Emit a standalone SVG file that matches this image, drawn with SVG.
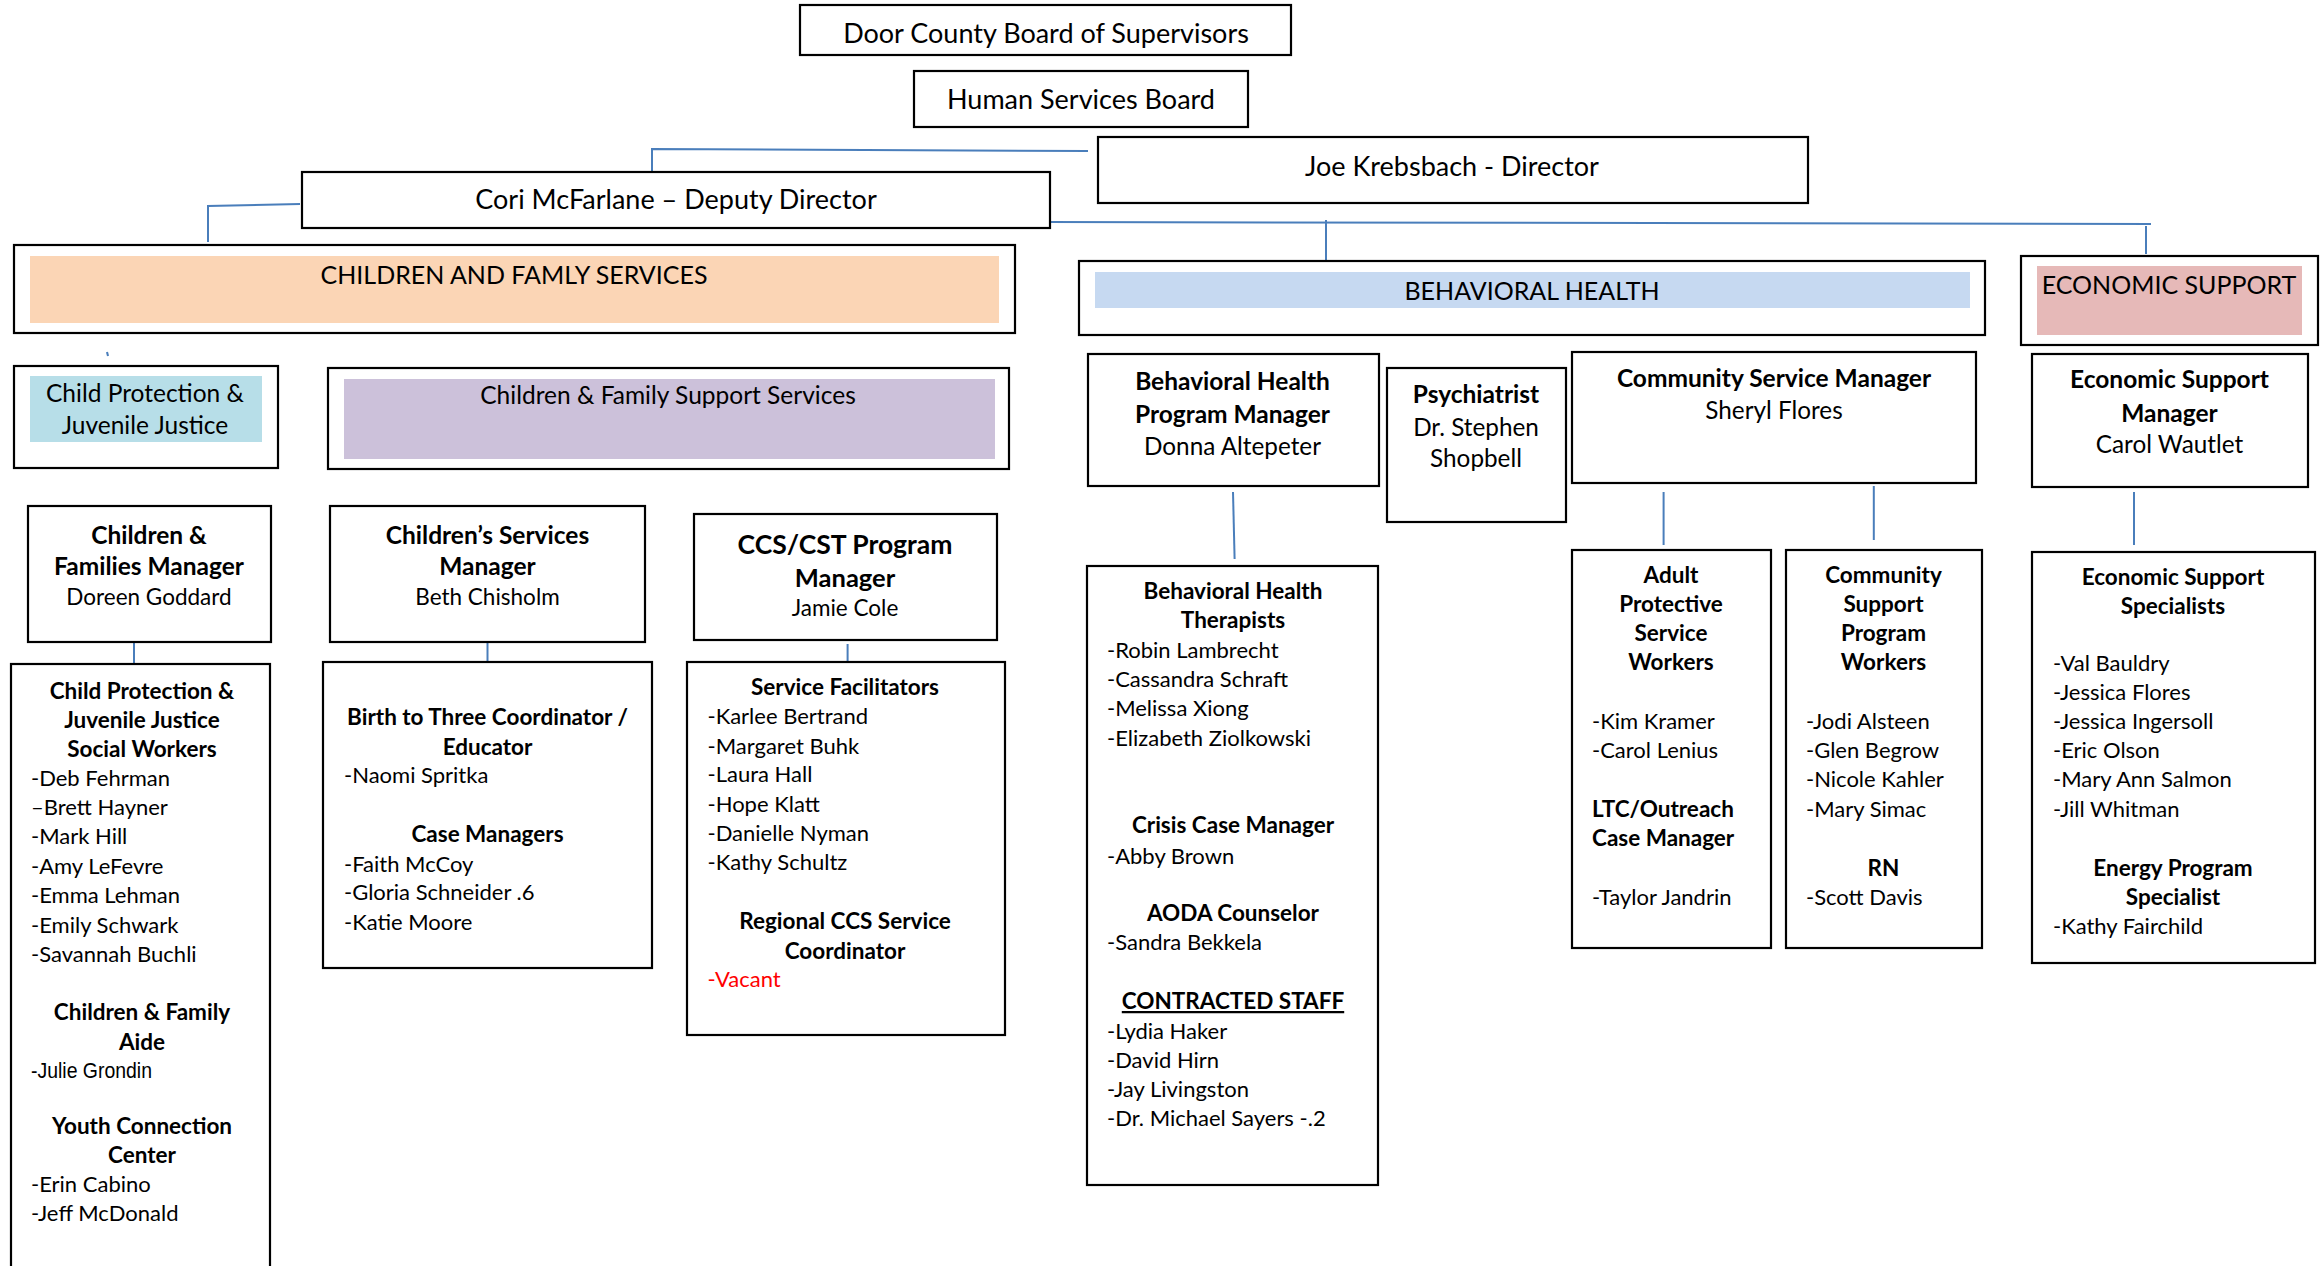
<svg xmlns="http://www.w3.org/2000/svg" width="2322" height="1266" viewBox="0 0 2322 1266">
<style>
.box{fill:#fff;stroke:#000;stroke-width:2.2}
.conn{fill:none;stroke:#4a7ebb;stroke-width:2}
text{font-family:Lato,"Liberation Sans",sans-serif;fill:#000}
.top{font-size:27px;text-anchor:middle}
.sec{font-size:25px;text-anchor:middle}
.sub{font-size:24.5px;text-anchor:middle}
.mh{font-size:24.5px;font-weight:bold;text-anchor:middle}
.mn{font-size:22.5px;text-anchor:middle}
.mn2{font-size:24.3px;text-anchor:middle}
.h{font-size:22.5px;font-weight:bold;text-anchor:middle}
.hl{font-size:22.5px;font-weight:bold}
.l{font-size:22px}
</style>
<rect width="2322" height="1266" fill="#fff"/>
<g id="connectors">
<path class="conn" d="M1088 151 L652 149 L652 171"/>
<path class="conn" d="M300 204 L208 206 L208 242"/>
<path class="conn" d="M1047 222 L2151 224"/>
<path class="conn" d="M1326 220 L1326 260"/>
<path class="conn" d="M2146 226 L2146 254"/>
<path class="conn" d="M107 352 L108 356" stroke-width="1.5"/>
<path class="conn" d="M483 400 L483.5 407" stroke-width="1.5"/>
<path class="conn" d="M134 641 L134 663"/>
<path class="conn" d="M487.5 643 L487.5 661"/>
<path class="conn" d="M847.6 644 L847.6 661"/>
<path class="conn" d="M1233 492 L1234.6 559"/>
<path class="conn" d="M1663.6 492 L1663.6 545"/>
<path class="conn" d="M1873.8 486 L1873.8 540"/>
<path class="conn" d="M2134 492 L2134 545"/>
</g>
<g id="n-board"><rect class="box" x="800" y="5" width="491" height="50"/><text class="top" x="1046" y="43">Door County Board of Supervisors</text></g>
<g id="n-hsb"><rect class="box" x="914" y="71" width="334" height="56"/><text class="top" x="1081" y="109">Human Services Board</text></g>
<g id="n-director"><rect class="box" x="1098" y="137" width="710" height="66"/><text class="top" x="1452" y="176">Joe Krebsbach - Director</text></g>
<g id="n-deputy"><rect class="box" x="302" y="172" width="748" height="56"/><text class="top" x="676" y="209">Cori McFarlane – Deputy Director</text></g>
<g id="n-cfs"><rect class="box" x="14" y="245" width="1001" height="88"/><rect x="30" y="256" width="969" height="67" fill="#fbd5b5"/><text class="sec" x="514" y="284">CHILDREN AND FAMLY SERVICES</text></g>
<g id="n-cpjj"><rect class="box" x="14" y="366" width="264" height="102"/><rect x="30" y="376" width="232" height="66" fill="#b7dee8"/><text class="sub" x="145" y="402">Child Protection &amp;</text><text class="sub" x="145" y="434">Juvenile Justice</text></g>
<g id="n-cfss"><rect class="box" x="328" y="368" width="681" height="101"/><rect x="344" y="379" width="651" height="80" fill="#ccc1da"/><text class="sub" x="668" y="404">Children &amp; Family Support Services</text></g>
<g id="n-bh"><rect class="box" x="1079" y="261" width="906" height="74"/><rect x="1095" y="272" width="875" height="36" fill="#c6d9f1"/><text class="sec" x="1532" y="300">BEHAVIORAL HEALTH</text></g>
<g id="n-es"><rect class="box" x="2021" y="256" width="297" height="89"/><rect x="2037" y="266" width="265" height="69" fill="#e6b9b8"/><text class="sec" x="2169" y="294">ECONOMIC SUPPORT</text></g>
<g id="n-cfm"><rect class="box" x="28" y="506" width="243" height="136"/><text class="mh" x="149" y="544">Children &amp;</text><text class="mh" x="149" y="575">Families Manager</text><text class="mn" x="149" y="605">Doreen Goddard</text></g>
<g id="n-csm"><rect class="box" x="330" y="506" width="315" height="136"/><text class="mh" x="487.5" y="544">Children’s Services</text><text class="mh" x="487.5" y="575">Manager</text><text class="mn" x="487.5" y="605">Beth Chisholm</text></g>
<g id="n-ccs"><rect class="box" x="694" y="514" width="303" height="126"/><text class="mh" x="845" y="554" style="font-size:26.5px">CCS/CST Program</text><text class="mh" x="845" y="587" style="font-size:25.5px">Manager</text><text class="mn" x="845" y="616">Jamie Cole</text></g>
<g id="n-bhpm"><rect class="box" x="1088" y="354" width="291" height="132"/><text class="mh" x="1232.5" y="390">Behavioral Health</text><text class="mh" x="1232.5" y="423">Program Manager</text><text class="mn2" x="1232.5" y="455">Donna Altepeter</text></g>
<g id="n-psy"><rect class="box" x="1387" y="368" width="179" height="154"/><text class="mh" x="1476" y="403">Psychiatrist</text><text class="mn2" x="1476" y="436">Dr. Stephen</text><text class="mn2" x="1476" y="467">Shopbell</text></g>
<g id="n-comm"><rect class="box" x="1572" y="352" width="404" height="131"/><text class="mh" x="1774" y="387">Community Service Manager</text><text class="mn2" x="1774" y="419">Sheryl Flores</text></g>
<g id="n-esm"><rect class="box" x="2032" y="354" width="276" height="133"/><text class="mh" x="2169.5" y="388">Economic Support</text><text class="mh" x="2169.5" y="422">Manager</text><text class="mn2" x="2169.5" y="453">Carol Wautlet</text></g>
<g id="n-cpsw"><rect class="box" x="11" y="664" width="259" height="640"/>
<text class="h" x="142" y="699">Child Protection &amp;</text><text class="h" x="142" y="728">Juvenile Justice</text><text class="h" x="142" y="757">Social Workers</text>
<text class="l" x="31" y="786">-Deb Fehrman</text><text class="l" x="31" y="815">–Brett Hayner</text><text class="l" x="31" y="844">-Mark Hill</text><text class="l" x="31" y="874">-Amy LeFevre</text><text class="l" x="31" y="903">-Emma Lehman</text><text class="l" x="31" y="933">-Emily Schwark</text><text class="l" x="31" y="962">-Savannah Buchli</text>
<text class="h" x="142" y="1020">Children &amp; Family</text><text class="h" x="142" y="1050">Aide</text>
<text x="31" y="1078" style="font-family:'Liberation Sans',Arial,sans-serif;font-size:22px" textLength="121" lengthAdjust="spacingAndGlyphs">-Julie Grondin</text>
<text class="h" x="142" y="1134">Youth Connection</text><text class="h" x="142" y="1163">Center</text>
<text class="l" x="31" y="1192">-Erin Cabino</text><text class="l" x="31" y="1221">-Jeff McDonald</text></g>
<g id="n-b3"><rect class="box" x="323" y="662" width="329" height="306"/>
<text class="h" x="487.5" y="725">Birth to Three Coordinator /</text><text class="h" x="487.5" y="755">Educator</text>
<text class="l" x="344" y="783">-Naomi Spritka</text>
<text class="h" x="487.5" y="842">Case Managers</text>
<text class="l" x="344" y="871.5">-Faith McCoy</text><text class="l" x="344" y="900">-Gloria Schneider .6</text><text class="l" x="344" y="930">-Katie Moore</text></g>
<g id="n-sf"><rect class="box" x="687" y="662" width="318" height="373"/>
<text class="h" x="845" y="694.5">Service Facilitators</text>
<text class="l" x="707.5" y="724">-Karlee Bertrand</text><text class="l" x="707.5" y="754">-Margaret Buhk</text><text class="l" x="707.5" y="782">-Laura Hall</text><text class="l" x="707.5" y="812">-Hope Klatt</text><text class="l" x="707.5" y="841">-Danielle Nyman</text><text class="l" x="707.5" y="870">-Kathy Schultz</text>
<text class="h" x="845" y="929">Regional CCS Service</text><text class="h" x="845" y="959">Coordinator</text>
<text class="l" x="707.5" y="987" style="fill:#ff0000">-Vacant</text></g>
<g id="n-bht"><rect class="box" x="1087" y="566" width="291" height="619"/>
<text class="h" x="1233" y="599">Behavioral Health</text><text class="h" x="1233" y="628">Therapists</text>
<text class="l" x="1107" y="658">-Robin Lambrecht</text><text class="l" x="1107" y="687">-Cassandra Schraft</text><text class="l" x="1107" y="716">-Melissa Xiong</text><text class="l" x="1107" y="746">-Elizabeth Ziolkowski</text>
<text class="h" x="1233" y="833">Crisis Case Manager</text><text class="l" x="1107" y="863.5">-Abby Brown</text>
<text class="h" x="1233" y="921">AODA Counselor</text><text class="l" x="1107" y="950">-Sandra Bekkela</text>
<text class="h" x="1233" y="1009" text-decoration="underline">CONTRACTED STAFF</text>
<text class="l" x="1107" y="1039">-Lydia Haker</text><text class="l" x="1107" y="1068">-David Hirn</text><text class="l" x="1107" y="1097">-Jay Livingston</text><text class="l" x="1107" y="1126">-Dr. Michael Sayers -.2</text></g>
<g id="n-aps"><rect class="box" x="1572" y="550" width="199" height="398"/>
<text class="h" x="1671" y="583">Adult</text><text class="h" x="1671" y="612">Protective</text><text class="h" x="1671" y="641">Service</text><text class="h" x="1671" y="670">Workers</text>
<text class="l" x="1592" y="729">-Kim Kramer</text><text class="l" x="1592" y="758">-Carol Lenius</text>
<text class="hl" x="1592" y="817">LTC/Outreach</text><text class="hl" x="1592" y="846">Case Manager</text>
<text class="l" x="1592" y="905">-Taylor Jandrin</text></g>
<g id="n-csp"><rect class="box" x="1786" y="550" width="196" height="398"/>
<text class="h" x="1883.5" y="583">Community</text><text class="h" x="1883.5" y="612">Support</text><text class="h" x="1883.5" y="641">Program</text><text class="h" x="1883.5" y="670">Workers</text>
<text class="l" x="1806" y="729">-Jodi Alsteen</text><text class="l" x="1806" y="758">-Glen Begrow</text><text class="l" x="1806" y="787">-Nicole Kahler</text><text class="l" x="1806" y="817">-Mary Simac</text>
<text class="h" x="1883.5" y="876">RN</text><text class="l" x="1806" y="905">-Scott Davis</text></g>
<g id="n-ess"><rect class="box" x="2032" y="552" width="283" height="411"/>
<text class="h" x="2173" y="585">Economic Support</text><text class="h" x="2173" y="614">Specialists</text>
<text class="l" x="2053" y="670.5">-Val Bauldry</text><text class="l" x="2053" y="699.5">-Jessica Flores</text><text class="l" x="2053" y="729">-Jessica Ingersoll</text><text class="l" x="2053" y="758">-Eric Olson</text><text class="l" x="2053" y="787">-Mary Ann Salmon</text><text class="l" x="2053" y="817">-Jill Whitman</text>
<text class="h" x="2173" y="876">Energy Program</text><text class="h" x="2173" y="905">Specialist</text>
<text class="l" x="2053" y="934">-Kathy Fairchild</text></g>
</svg>
